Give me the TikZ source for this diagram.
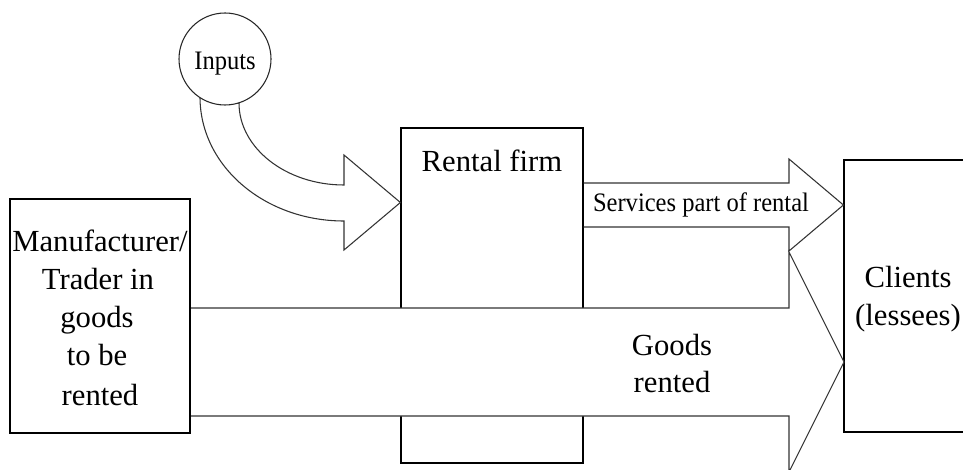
\documentclass[tikz,border=0pt]{standalone}
\usepackage{fontspec}
\setmainfont{Liberation Serif}
\begin{document}
\begin{tikzpicture}[x=0.75pt,y=-0.75pt,
  box/.style={draw=black, line width=0.9pt, inner sep=0pt, fill=none},
  blockarrow/.style={draw=black!80, line width=0.8pt, line join=miter},
  bigtext/.style={font=\fontsize{23}{28}\selectfont, anchor=base, inner sep=0pt},
  smalltext/.style={font=\fontsize{20}{24}\selectfont, anchor=base, inner sep=0pt}]
\path[use as bounding box] (0,0) rectangle (963,470);
\clip (0,0) rectangle (963,470);

% boxes
\node[box, minimum width=136.5pt, minimum height=251.25pt] (rental) at (492,295.5) {};
\node[box, minimum width=109.5pt, minimum height=204pt] (clients) at (917,296) {};

% goods arrow (covers the rental firm box)
\fill[white] (190,308) -- (789,308) -- (789,252) -- (844,362) -- (789,472) -- (789,416) -- (190,416) -- cycle;
\draw[blockarrow] (190,308) -- (789,308) -- (789,252) -- (844,362) -- (789,472) -- (789,416) -- (190,416);

% services arrow
\draw[blockarrow] (rental.east |- 0,183) -- (789,183) -- (789,159) -- (clients.west |- 0,205) -- (789,251) -- (789,227) -- (rental.east |- 0,227);

\node[box, fill=white, minimum width=135pt, minimum height=175.5pt] (manu) at (100,316) {};

% inputs arrow
\draw[blockarrow, fill=white] (200,97) .. controls (200,166) and (264.5,221) .. (344,221) -- (344,250) -- (rental.west |- 0,202.5) -- (344,155) -- (344,185) .. controls (286,185) and (239,148) .. (239,103) -- cycle;
\node[draw=black!85, line width=0.8pt, fill=white, circle, minimum size=69pt, inner sep=0pt] (inputs) at (225,59) {};

% texts
\node[smalltext] (tInputs) at (225,70) {\scalebox{0.92}[1]{Inputs}};
\node[bigtext] (tRental) at (492,172) {Rental firm};
\node[smalltext] (tServices) at (701,212) {\scalebox{0.92}[1]{Services part of rental}};
\node[bigtext] (m1) at (100,252) {Manufacturer/};
\node[bigtext] (m2) at (98,289) {Trader in};
\node[bigtext] (m3) at (97,327) {goods};
\node[bigtext] (m4) at (97,365) {to be};
\node[bigtext] (m5) at (100,405) {rented};
\node[bigtext] (g1) at (672,355) {Goods};
\node[bigtext] (g2) at (672,392) {rented};
\node[bigtext] (c1) at (908,287) {Clients};
\node[bigtext] (c2) at (908,325) {(lessees)};
\end{tikzpicture}
\end{document}
